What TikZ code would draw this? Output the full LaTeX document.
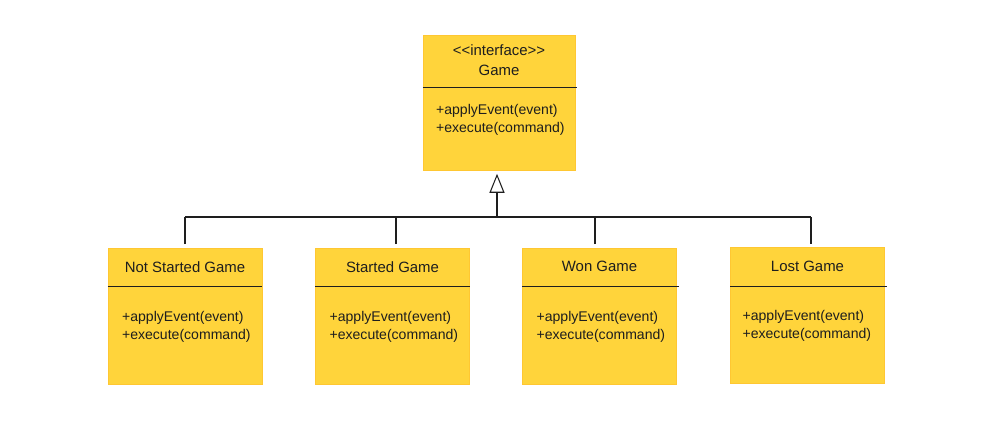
\documentclass[tikz,border=0pt]{standalone}
\usepackage{fontspec}
\setmainfont{Liberation Sans}
\usetikzlibrary{arrows.meta,positioning,calc}
\definecolor{notefill}{HTML}{FFD43B}
\definecolor{ink}{HTML}{1E1E1E}

\begin{document}
\begin{tikzpicture}[x=0.02cm,y=-0.02cm,>=Latex,every node/.style={font=\fontsize{8}{10.2}\selectfont,text=ink},classbox/.style={fill=notefill,draw=notefill!85!orange,line width=0.3pt,minimum width=3.08cm,minimum height=2.72cm,inner sep=0pt},divider/.style={ink,line width=0.8pt},link/.style={ink,line width=0.6pt},methods/.style={anchor=north west,align=left,inner sep=0pt},title/.style={font=\fontsize{8.5}{11}\selectfont}]
\useasboundingbox (0,0) rectangle (1000,420);
% interface
\node[classbox,minimum width=3.04cm,minimum height=2.7cm] (game) at (499,102.5) {};
\node[title,align=center,below=0.2cm of game.north,inner sep=0pt] (gamename) {<{}<interface>{}>\\Game};
\draw[divider] ($(game.north west)+(0,53)$) -- ($(game.north east)+(2,53)$);
\node[methods] (gameops) at ($(game.north west)+(13,69)$) {+applyEvent(event)\\+execute(command)};
% states
\node[classbox] (notstarted) at (185,316) {};
\node[classbox] (started) at (392.5,316) {};
\node[classbox] (won) at (599.5,316) {};
\node[classbox] (lost) at (807.5,315.5) {};
\node[title] at ($(notstarted.north)+(0,19)$) {Not Started Game};
\node[title] at ($(started.north)+(0,19)$) {Started Game};
\node[title] at ($(won.north)+(0,19)$) {Won Game};
\node[title] at ($(lost.north)+(0,19)$) {Lost Game};
\draw[divider] ($(notstarted.north west)+(0,39)$) -- ($(notstarted.north east)+(0,39)$);
\draw[divider] ($(started.north west)+(0,39)$) -- ($(started.north east)+(0,39)$);
\draw[divider] ($(won.north west)+(0,39)$) -- ($(won.north east)+(2,39)$);
\draw[divider] ($(lost.north west)+(0,39)$) -- ($(lost.north east)+(2,39)$);
\node[methods] at ($(notstarted.north west)+(14,63)$) {+applyEvent(event)\\+execute(command)};
\node[methods] at ($(started.north west)+(14,63)$) {+applyEvent(event)\\+execute(command)};
\node[methods] at ($(won.north west)+(14,63)$) {+applyEvent(event)\\+execute(command)};
\node[methods] at ($(lost.north west)+(12,63)$) {+applyEvent(event)\\+execute(command)};
% realisation
\coordinate (hub) at (497,217);
\draw[link,-{Triangle[open,width=0.3cm,length=0.38cm]},shorten >=2pt] (hub) -- (hub |- game.south);
\draw[link] (notstarted.north |- hub) -- ([xshift=0.07cm]lost.north |- hub);
\draw[link,shorten <=2pt] (notstarted.north) -- (notstarted.north |- hub);
\draw[link,shorten <=2pt] ([xshift=0.07cm]started.north) -- ([xshift=0.07cm]started.north |- hub);
\draw[link,shorten <=2pt] ([xshift=-0.09cm]won.north) -- ([xshift=-0.09cm]won.north |- hub);
\draw[link,shorten <=2pt] ([xshift=0.07cm]lost.north) -- ([xshift=0.07cm]lost.north |- hub);
\end{tikzpicture}
\end{document}
